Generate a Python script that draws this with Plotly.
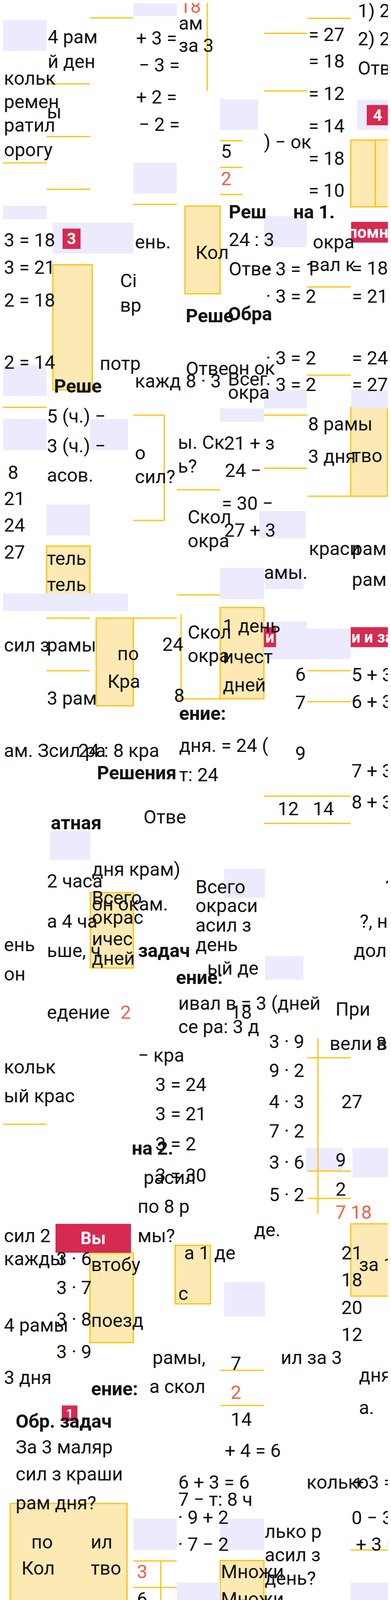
import plotly.graph_objects as go

W, H = 1000, 4678

# text fragments of the shuffled page (top part was read with a stretched zoom, see fix_y)
frag_text = [
    "4 рам", "й ден", "кольк", "ремен", "ы", "ратил", "орогу",
    "+ 3 =", "ам", "за 3", "− 3 =", "+ 2 =", "− 2 =",
    "= 27", "= 18", "= 12", "= 14", "= 18", "= 10",
    "1) 2 −", "2) 2 −", "Отве", "5", ") − ок", "24 : 3", "Отве",
    "3 = 18", "3 = 21", "2 = 18", "2 = 14", "ень.", "Кол", "окра", "вал к",
    "= 18", "= 21", "= 24", "= 27", "· 3 = 1", "· 3 = 2", "· 3 = 2", "· 3 = 2",
    "8 · 3", "Всег", "Сі", "вр", "потр", "кажд",
    "5 (ч.) −", "3 (ч.) −", "асов.", "8", "21", "24", "27", "тель", "тель",
    "о", "сил?", "ы. Ск", "ь?", "Отве", "он ок", "окра", "21 + з", "24 −",
    "= 30 −", "27 + 3", "Скол", "окра", "амы.", "8 рамы", "3 дня", "тво",
    "краси", "рамы", "рамы", "1 день", "Скол", "окра", "ичест", "дней",
    "6", "7", "сил з", "рамы", "3 рам", "24", "по", "Кра", "8",
    "5 + 3 =", "6 + 3 =",
]
frag_pos = [
    (112, 96), (112, 166), (0, 214), (0, 281), (110, 310), (0, 348), (0, 418),
    (338, 99), (447, 57), (447, 121), (345, 176), (338, 268), (345, 345),
    (779, 89), (779, 165), (779, 258), (779, 350), (779, 442), (779, 533),
    (905, 22), (905, 102), (905, 185), (555, 422), (665, 395), (575, 673), (575, 757),
    (0, 675), (0, 753), (0, 846), (0, 922), (335, 680), (490, 710), (790, 680), (780, 745),
    (890, 755), (890, 835), (890, 910), (890, 985), (670, 757), (670, 835), (670, 910), (670, 985),
    (465, 975), (573, 970), (297, 790), (297, 860), (245, 925), (335, 975),
    (110, 1075), (110, 1160), (110, 1243), (10, 1235), (0, 1310), (0, 1385), (0, 1462), (110, 1480), (110, 1555),
    (335, 1180), (335, 1248), (445, 1150), (445, 1218), (465, 940), (573, 938), (573, 1007), (563, 1152), (565, 1230),
    (557, 1323), (563, 1400), (470, 1362), (470, 1430), (665, 1520), (778, 1097), (778, 1190), (890, 1187),
    (780, 1452), (890, 1452), (890, 1540), (560, 1672), (470, 1690), (470, 1757), (560, 1760), (560, 1840),
    (745, 1810), (745, 1890), (0, 1727), (110, 1727), (110, 1878), (405, 1725), (290, 1752), (265, 1830), (435, 1870),
    (889, 1812), (889, 1888),
]

# fragments read straight from the page
frag2_text = [
    "9", "7 + 3 =", "8 + 3 =", "дня. = 24 (", "т: 24", "ам. Зсил ра", "24 : 8 кра", "Отве",
    "12", "14", "дня крам)", "он окам.", "Всего", "окраси", "асил з", "день",
    "2 часа", "а 4 ча", "ьше, ч", "ень", "он", "?, н", "доли", "?",
    "Всего", "окрас", "ичес", "дней", "ый де", "ивал в = 3 (дней", "се ра: 3 д",
    "едение", "18", "При", "вели в", "3", "3 · 9", "9 · 2", "4 · 3", "7 · 2",
    "3 · 6", "5 · 2", "27", "9", "2", "кольк", "ый крас", "− кра", "3 = 24",
    "3 = 21", "3 = 2", "3 = 30", "расил", "по 8 р", "мы?", "де.", "а 1 де",
    "сил 2", "кажды", "4 рамы", "3 дня", "3 · 6", "3 · 7", "3 · 8", "3 · 9",
    "втобу", "поезд", "с", "21", "18", "20", "12", "за 1", "дня)", "а.",
    "+ 3 =", "рамы,", "а скол", "7", "14", "ил за 3",
    "За 3 маляр", "сил з краши", "рам дня?", "+ 4 = 6", "6 + 3 = 6", "колько",
    "7 − т: 8 ч", "· 9 + 2", "· 7 − 2", "лько р", "асил з", "день?", "0 − 3", "+ 3 =",
    "по", "ил", "Кол", "тво", "6", "18", "Множи", "Множи", "оизве",
    "− еха", "3 · 7- про", "8 · 3", "3 · 1", "3 · 9", "3 = 8 (", "т: 8 р",
    "= 3 ·", "= 3 ·", "= 3 ·", "= 3 ·", "рам", "о мал", "за 1", "краши", "сил в",
    "поезд", "з доро", "Сі", "дней", "о", "ли", "и на", "?", "3", "12", "3", "9",
]
frag2_pos = [
    (745, 1920), (889, 1965), (889, 2045), (448, 1900), (448, 1975), (0, 1913), (190, 1913), (357, 2083),
    (700, 2062), (790, 2062), (225, 2217), (225, 2306), (490, 2262), (490, 2310), (490, 2360), (490, 2410),
    (110, 2247), (110, 2350), (110, 2425), (0, 2410), (0, 2485), (910, 2350), (895, 2425), (975, 2262),
    (225, 2290), (225, 2340), (225, 2395), (225, 2445), (520, 2470), (446, 2560), (446, 2620),
    (110, 2583), (580, 2583), (848, 2575), (833, 2663), (952, 2663), (678, 2658), (678, 2732), (678, 2812), (678, 2887),
    (678, 2967), (678, 3050), (863, 2812), (848, 2961), (848, 3036), (0, 2723), (0, 2797), (343, 2693), (387, 2768),
    (387, 2843), (387, 2920), (387, 3000), (357, 3006), (342, 3080), (342, 3155), (640, 3140), (461, 3199),
    (0, 3155), (0, 3214), (0, 3384), (0, 3518), (134, 3214), (134, 3288), (134, 3369), (134, 3452),
    (223, 3229), (223, 3372), (446, 3303), (863, 3199), (863, 3268), (863, 3339), (863, 3408), (908, 3229), (908, 3512), (908, 3595),
    (893, 3786), (380, 3467), (372, 3541), (580, 3482), (580, 3625), (708, 3467),
    (30, 3696), (30, 3765), (30, 3839), (565, 3705), (446, 3786), (774, 3786),
    (446, 3830), (445, 3876), (445, 3945), (667, 3912), (667, 3972), (667, 4032), (889, 3877), (900, 3945),
    (70, 3939), (222, 3939), (45, 4006), (222, 4006), (340, 4085), (340, 4150), (555, 4015), (555, 4085), (555, 4150),
    (111, 4177), (28, 4245), (28, 4315), (28, 4400), (28, 4468), (444, 4245), (444, 4318),
    (345, 4318), (345, 4387), (345, 4455), (345, 4525), (545, 4437), (444, 4515), (555, 4495), (444, 4575), (444, 4637),
    (778, 4177), (778, 4250), (740, 4268), (690, 4330), (900, 4350), (889, 4412), (889, 4475), (889, 4535),
    (820, 4607), (812, 4670), (202, 4538), (202, 4607),
]

bold_text = ["Реш", "на 1.", "Реше", "Обра", "Реше", "ение:", "Решения", "атная", "задач",
             "ение:", "на 2.", "ение:", "Обр. задач", "ение:", "атная"]
bold_pos = [(575, 594), (740, 594), (465, 890), (573, 885), (128, 990), (448, 1818), (238, 1970), (120, 2098),
            (343, 2425), (440, 2494), (327, 2931), (223, 3547), (30, 3630), (444, 4170), (444, 4437)]

red_text = ["18", "2", "2", "7 18", "2", "3", "4", "27"]
red_pos = [(450, 10), (555, 500), (298, 2583), (848, 3095), (580, 3556), (340, 4015), (820, 4538), (190, 4670)]

tag_text = ["4", "3", "помни", "и", "и и за", "Вы", "1", "1", "числ", "2"]
tag_box = [(930, 290, 985, 348), (152, 642, 198, 700), (890, 623, 1000, 682), (667, 1676, 698, 1733),
           (889, 1676, 1000, 1733), (134, 3125, 327, 3199), (150, 3590, 190, 3630), (40, 4152, 88, 4178),
           (333, 4196, 444, 4250), (44, 4580, 91, 4623)]

lav_box = [(0, 48, 111, 136), (333, 0, 444, 37), (555, 273, 652, 361), (333, 454, 444, 542), (0, 577, 111, 615),
           (127, 625, 333, 713), (905, 275, 1000, 361), (667, 607, 777, 695), (0, 930, 111, 1018),
           (0, 1083, 111, 1172), (222, 1083, 319, 1172), (111, 1327, 222, 1415), (0, 1580, 319, 1630),
           (667, 1000, 777, 1053), (555, 1053, 667, 1091), (555, 1507, 667, 1596), (667, 1660, 777, 1767),
           (777, 1680, 889, 1767), (890, 1000, 1000, 1053)]
lav2_box = [(655, 1300, 774, 1370), (670, 1450, 768, 1500),
            (119, 2119, 223, 2193), (565, 2217, 670, 2290), (670, 2440, 768, 2500), (774, 2931, 869, 2991),
            (893, 2931, 1000, 3006), (565, 3274, 670, 3363), (333, 3880, 444, 3960), (555, 3880, 667, 3960),
            (444, 4043, 555, 4123), (889, 4043, 1000, 4123), (778, 4108, 889, 4155), (889, 4198, 986, 4278),
            (15, 4155, 111, 4190), (333, 4182, 444, 4263), (111, 4403, 222, 4483), (778, 4403, 889, 4483),
            (20, 4567, 111, 4647), (333, 4632, 444, 4678)]

yel_box = [(889, 390, 1000, 580), (465, 578, 555, 828), (127, 745, 228, 1000), (111, 1445, 222, 1600),
           (889, 1050, 983, 1303), (238, 1650, 333, 1900), (555, 1620, 667, 1880)]
yel2_box = [(223, 2277, 333, 2470), (222, 3199, 333, 3429), (440, 3180, 530, 3330), (889, 3125, 1000, 3310),
            (18, 3841, 317, 4114), (555, 3987, 667, 4160), (111, 4510, 165, 4678)]

yel_line = [(222, 42, 333, 42), (111, 230, 222, 230), (111, 380, 222, 380), (0, 455, 111, 455),
            (111, 530, 222, 530), (333, 573, 444, 573), (667, 86, 778, 86), (667, 250, 778, 250),
            (778, 43, 889, 43), (555, 392, 612, 392), (555, 468, 612, 468), (555, 545, 612, 545),
            (778, 808, 889, 808), (778, 958, 889, 958), (0, 1050, 111, 1050), (333, 1072, 412, 1072),
            (333, 1372, 412, 1372), (444, 1285, 555, 1285), (444, 1584, 555, 1584), (667, 1072, 778, 1072),
            (667, 1223, 778, 1223), (778, 1303, 889, 1303), (111, 1650, 222, 1650), (111, 1800, 222, 1800),
            (333, 1650, 444, 1650), (444, 1880, 555, 1880), (778, 1800, 889, 1800), (778, 1888, 889, 1888),
            (522, 0, 522, 250), (412, 1072, 412, 1372), (952, 390, 952, 580), (455, 1640, 455, 1880)]
yel2_line = [(667, 2030, 889, 2030), (667, 2100, 889, 2100), (0, 2870, 111, 2870), (778, 2700, 889, 2700),
             (778, 2990, 889, 2990), (778, 3060, 889, 3060), (556, 3500, 667, 3500), (556, 3590, 667, 3590),
             (805, 2650, 805, 3100), (333, 3988, 444, 3988), (333, 4056, 444, 4056), (333, 4125, 444, 4125),
             (403, 3988, 403, 4160), (555, 4365, 640, 4365), (640, 4365, 640, 4637), (555, 4637, 640, 4637),
             (672, 4172, 672, 4442), (672, 4172, 778, 4172), (672, 4442, 778, 4442),
             (889, 4307, 987, 4307), (987, 4307, 987, 4567), (889, 4567, 987, 4567),
             (778, 4510, 889, 4510), (778, 4580, 889, 4580), (778, 4648, 889, 4648), (792, 4510, 792, 4678),
             (872, 4510, 872, 4678), (111, 4510, 222, 4510), (111, 4580, 222, 4580), (111, 4648, 222, 4648),
             (165, 4510, 165, 4678), (889, 3960, 1000, 3960), (667, 4150, 778, 4150)]


def fix_y(y):
    # the zooms used for the upper part were stretched 1.742 tall vs 1.566 wide
    if y < 900:
        return y * 0.899
    return 900 + (y - 900) * 0.899


def fix_box(b):
    return (b[0], fix_y(b[1]), b[2], fix_y(b[3]))


FONT = "Roboto"
SIZE = 48
fig = go.Figure()
fig.add_trace(go.Scatter(x=[0, W], y=[0, H], mode="markers", marker=dict(opacity=0), hoverinfo="skip"))

yb = [fix_box(b) for b in yel_box] + yel2_box
lb = [fix_box(b) for b in lav_box] + lav2_box
yl = [fix_box(b) for b in yel_line] + yel2_line
tb = [fix_box(b) for b in tag_box[:5]] + tag_box[5:]

shapes = []
for x0, y0, x1, y1 in yb:
    shapes.append(dict(type="rect", x0=x0, y0=y0, x1=x1, y1=y1, fillcolor="#FDE9B4",
                       line=dict(color="#FFC000", width=3), layer="below"))
for x0, y0, x1, y1 in lb:
    shapes.append(dict(type="rect", x0=x0, y0=y0, x1=x1, y1=y1, fillcolor="#ECEAFD",
                       line=dict(width=0), layer="below"))
for x0, y0, x1, y1 in yl:
    shapes.append(dict(type="line", x0=x0, y0=y0, x1=x1, y1=y1, line=dict(color="#FFC000", width=3)))
for x0, y0, x1, y1 in tb:
    shapes.append(dict(type="rect", x0=x0, y0=y0, x1=x1, y1=y1, fillcolor="#D62A52", line=dict(width=0)))

ann = []


def add(t, x, y, color="#111", bold=False):
    ann.append(dict(x=x, y=y, text="<b>%s</b>" % t if bold else t, showarrow=False, xanchor="left",
                    yanchor="middle", font=dict(family=FONT, size=SIZE, color=color)))


for t, (x, y) in zip(frag_text, frag_pos):
    add(t, x, fix_y(y))
for t, (x, y) in zip(frag2_text, frag2_pos):
    add(t, x, y)
for i, (t, (x, y)) in enumerate(zip(bold_text, bold_pos)):
    add(t, x, fix_y(y) if i < 5 else y, bold=True)
for i, (t, (x, y)) in enumerate(zip(red_text, red_pos)):
    add(t, x, fix_y(y) if i < 2 else y, color="#F2614B")
for t, (x0, y0, x1, y1) in zip(tag_text, tb):
    ann.append(dict(x=(x0 + x1) / 2, y=(y0 + y1) / 2, text="<b>%s</b>" % t, showarrow=False,
                    font=dict(family=FONT, size=min(44, int((y1 - y0) * 0.8)), color="white")))

fig.update_layout(width=W, height=H, margin=dict(l=0, r=0, t=0, b=0), showlegend=False,
                  plot_bgcolor="white", paper_bgcolor="white", shapes=shapes, annotations=ann)
fig.update_xaxes(range=[0, W], visible=False, fixedrange=True)
fig.update_yaxes(range=[H, 0], visible=False, fixedrange=True)
fig.write_html("out.html")
